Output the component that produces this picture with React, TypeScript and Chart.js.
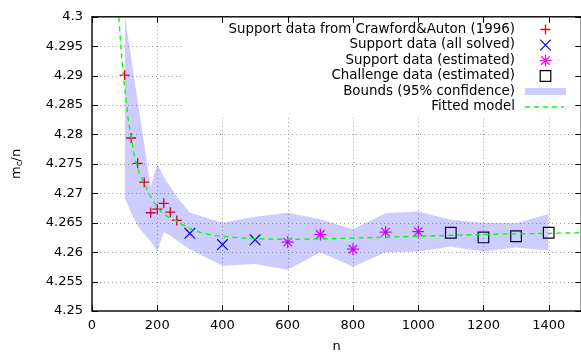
import React, { useEffect, useRef } from 'react';
import { Chart, registerables } from 'chart.js';

Chart.register(...registerables);

const FONT = '"DejaVu Sans", "Noto Sans", sans-serif';

// ---- tick values ----
const X_TICKS = [0, 200, 400, 600, 800, 1000, 1200, 1400];
const Y_TICKS = [4.25, 4.255, 4.26, 4.265, 4.27, 4.275, 4.28, 4.285, 4.29, 4.295, 4.3];

// ---- series ----
const CRAWFORD_N = [100, 120, 140, 160, 180, 200, 220, 240, 260];
const CRAWFORD_Y = [4.2901, 4.2794, 4.2751, 4.2719, 4.2667, 4.2673, 4.2683, 4.2668, 4.2654];

const SOLVED_N = [300, 400, 500];
const SOLVED_Y = [4.2632, 4.2613, 4.2621];

const ESTIMATED_N = [600, 700, 800, 900, 1000];
const ESTIMATED_Y = [4.2617, 4.263, 4.2605, 4.2634, 4.2635];

const CHALLENGE_N = [1100, 1200, 1300, 1400];
const CHALLENGE_Y = [4.2633, 4.2625, 4.2627, 4.2633];

const BOUND_N = [100, 120, 140, 160, 180, 200, 220, 240, 260, 300, 400, 500, 600, 700, 800, 900, 1000, 1100, 1200, 1300, 1400];
const BOUND_HI = [4.3005, 4.293, 4.2857, 4.2784, 4.2711, 4.275, 4.2728, 4.2711, 4.2694, 4.2667, 4.265, 4.266, 4.2667, 4.2656, 4.2639, 4.2666, 4.2669, 4.2655, 4.265, 4.2649, 4.2665];
const BOUND_LO = [4.2692, 4.2667, 4.2645, 4.2631, 4.2618, 4.2601, 4.2634, 4.2628, 4.262, 4.2605, 4.2577, 4.258, 4.257, 4.26, 4.2575, 4.26, 4.2601, 4.2609, 4.2601, 4.2608, 4.2603];

const MODEL_N = [82, 89, 96, 105, 112, 120, 130, 145, 166, 181, 205, 227, 258, 293, 319, 350, 400, 500, 600, 800, 1000, 1200, 1400, 1500];
const MODEL_Y = [4.2999, 4.2946, 4.2901, 4.2856, 4.2822, 4.2797, 4.2764, 4.2735, 4.271, 4.2693, 4.2673, 4.2662, 4.2653, 4.2642, 4.2636, 4.2631, 4.2627, 4.2623, 4.2622, 4.2624, 4.2627, 4.263, 4.2632, 4.2633];

const LABELS = [
  'Support data from Crawford&Auton (1996)',
  'Support data (all solved)',
  'Support data (estimated)',
  'Challenge data (estimated)',
  'Bounds (95% confidence)',
  'Fitted model',
];

const xy = (ns: number[], ys: number[]) => ns.map((n, i) => ({ x: n, y: ys[i] }));

function drawMarker(ctx: CanvasRenderingContext2D, style: string, x: number, y: number, r: number, color: string, w: number) {
  ctx.save();
  ctx.strokeStyle = color;
  ctx.lineWidth = w;
  ctx.setLineDash([]);
  ctx.beginPath();
  const d = r * Math.SQRT1_2;
  if (style === 'cross' || style === 'star') {
    ctx.moveTo(x - r, y); ctx.lineTo(x + r, y);
    ctx.moveTo(x, y - r); ctx.lineTo(x, y + r);
  }
  if (style === 'crossRot' || style === 'star') {
    ctx.moveTo(x - d, y - d); ctx.lineTo(x + d, y + d);
    ctx.moveTo(x + d, y - d); ctx.lineTo(x - d, y + d);
  }
  if (style === 'rect') {
    ctx.rect(x - d, y - d, 2 * d, 2 * d);
  }
  ctx.stroke();
  ctx.restore();
}

const decorPlugin = {
  id: 'gnuplotDecor',
  beforeDatasetsDraw(chart: any) {
    const { ctx, chartArea: a, scales } = chart;
    const xs = scales.x, ys = scales.y;
    ctx.save();
    ctx.strokeStyle = '#a0a0a0';
    ctx.lineWidth = 1;
    ctx.setLineDash([1, 3]);
    ctx.beginPath();
    for (const v of X_TICKS) {
      const px = Math.round(xs.getPixelForValue(v)) + 0.5;
      if (px <= a.left + 1 || px >= a.right - 1) continue;
      ctx.moveTo(px, a.bottom); ctx.lineTo(px, a.top);
    }
    for (const v of Y_TICKS) {
      const py = Math.round(ys.getPixelForValue(v)) + 0.5;
      if (py <= a.top + 1 || py >= a.bottom - 1) continue;
      ctx.moveTo(a.left, py); ctx.lineTo(a.right, py);
    }
    ctx.stroke();
    ctx.setLineDash([]);
    // opaque key box
    ctx.fillStyle = '#ffffff';
    ctx.fillRect(182, a.top + 1, a.right - 182, 116 - a.top - 1);
    ctx.restore();
  },
  afterDraw(chart: any) {
    const { ctx, chartArea: a, scales } = chart;
    const xs = scales.x, ys = scales.y;
    ctx.save();
    // border
    ctx.strokeStyle = '#000';
    ctx.lineWidth = 1.4;
    ctx.strokeRect(a.left, a.top, a.right - a.left, a.bottom - a.top);
    // ticks (mirrored, inward)
    ctx.lineWidth = 1;
    ctx.beginPath();
    const tl = 6;
    for (const v of X_TICKS) {
      const px = Math.round(xs.getPixelForValue(v)) + 0.5;
      ctx.moveTo(px, a.bottom); ctx.lineTo(px, a.bottom - tl);
      ctx.moveTo(px, a.top); ctx.lineTo(px, a.top + tl);
    }
    for (const v of Y_TICKS) {
      const py = Math.round(ys.getPixelForValue(v)) + 0.5;
      ctx.moveTo(a.left, py); ctx.lineTo(a.left + tl, py);
      ctx.moveTo(a.right, py); ctx.lineTo(a.right - tl, py);
    }
    ctx.stroke();

    // key
    ctx.font = '13.4px ' + FONT;
    ctx.textAlign = 'right';
    ctx.textBaseline = 'middle';
    let row = 0;
    chart.data.datasets.forEach((ds: any) => {
      if (!ds.label) return;
      const y = 29.5 + row * 15.5;
      row++;
      ctx.fillStyle = '#000';
      ctx.fillText(ds.label, 515, y);
      if (ds.fill) {
        ctx.fillStyle = ds.backgroundColor;
        ctx.fillRect(525, y - 3.5, 41, 7);
      } else if (ds.showLine) {
        ctx.save();
        ctx.strokeStyle = ds.borderColor;
        ctx.lineWidth = ds.borderWidth;
        ctx.setLineDash(ds.borderDash || []);
        ctx.beginPath();
        ctx.moveTo(525, y); ctx.lineTo(564, y);
        ctx.stroke();
        ctx.restore();
      } else {
        drawMarker(ctx, ds.pointStyle, 545.5, y, ds.pointRadius, ds.borderColor, ds.pointBorderWidth);
      }
    });

    // y title with subscript
    ctx.translate(16.5, (a.top + a.bottom) / 2);
    ctx.rotate(-Math.PI / 2);
    ctx.textAlign = 'left';
    ctx.textBaseline = 'middle';
    ctx.fillStyle = '#000';
    ctx.font = '13px ' + FONT;
    const wm = ctx.measureText('m').width;
    const ws = ctx.measureText('/n').width;
    ctx.font = '9px ' + FONT;
    const wc = ctx.measureText('c').width;
    const x0 = -(wm + wc + ws) / 2;
    ctx.font = '13px ' + FONT;
    ctx.fillText('m', x0, 0);
    ctx.font = '9px ' + FONT;
    ctx.fillText('c', x0 + wm, 3);
    ctx.font = '13px ' + FONT;
    ctx.fillText('/n', x0 + wm + wc, 0);
    ctx.restore();
  },
};

export default function App() {
  const ref = useRef<HTMLCanvasElement | null>(null);

  useEffect(() => {
    if (!ref.current) return;
    const transparent = 'rgba(0,0,0,0)';
    const chart = new Chart(ref.current, {
      type: 'scatter',
      data: {
        datasets: [
          {
            label: LABELS[0],
            data: xy(CRAWFORD_N, CRAWFORD_Y),
            showLine: false,
            pointStyle: 'cross',
            pointRadius: 5,
            borderColor: '#ff0000',
            backgroundColor: transparent,
            pointBorderWidth: 1.3,
            order: 6,
          },
          {
            label: LABELS[1],
            data: xy(SOLVED_N, SOLVED_Y),
            showLine: false,
            pointStyle: 'crossRot',
            pointRadius: 7.5,
            borderColor: '#0000ff',
            backgroundColor: transparent,
            pointBorderWidth: 1.2,
            order: 5,
          },
          {
            label: LABELS[2],
            data: xy(ESTIMATED_N, ESTIMATED_Y),
            showLine: false,
            pointStyle: 'star',
            pointRadius: 6,
            borderColor: '#ff00ff',
            backgroundColor: transparent,
            pointBorderWidth: 1.2,
            order: 4,
          },
          {
            label: LABELS[3],
            data: xy(CHALLENGE_N, CHALLENGE_Y),
            showLine: false,
            pointStyle: 'rect',
            pointRadius: 7.5,
            borderColor: '#000000',
            backgroundColor: transparent,
            pointBorderWidth: 1.2,
            order: 3,
          },
          {
            label: LABELS[4],
            data: xy(BOUND_N, BOUND_HI),
            showLine: true,
            fill: '+1',
            borderColor: transparent,
            borderWidth: 1,
            backgroundColor: 'rgba(0,0,255,0.2)',
            pointRadius: 0,
            order: 2,
          },
          {
            label: '',
            data: xy(BOUND_N, BOUND_LO),
            showLine: true,
            fill: false,
            borderColor: transparent,
            borderWidth: 1,
            backgroundColor: transparent,
            pointRadius: 0,
            order: 2,
          },
          {
            label: LABELS[5],
            data: xy(MODEL_N, MODEL_Y),
            showLine: true,
            fill: false,
            borderColor: '#00ff00',
            borderWidth: 1.4,
            borderDash: [5, 4],
            backgroundColor: transparent,
            pointRadius: 0,
            cubicInterpolationMode: 'monotone',
            order: 1,
          },
        ],
      },
      options: {
        animation: false,
        responsive: false,
        devicePixelRatio: 1,
        layout: { padding: { left: 0, top: 15, right: 8, bottom: 0 } },
        plugins: {
          legend: { display: false },
          tooltip: { enabled: false },
        },
        scales: {
          x: {
            type: 'linear',
            min: 0,
            max: 1500,
            afterBuildTicks: (s: any) => { s.ticks = X_TICKS.map((value) => ({ value })); },
            afterFit: (s: any) => { s.height = 42; },
            grid: { display: false, drawTicks: false },
            border: { display: false },
            ticks: {
              autoSkip: false,
              maxRotation: 0,
              padding: 7,
              color: '#000',
              font: { family: FONT, size: 13 },
              callback: (v: any) => String(v),
            },
            title: {
              display: true,
              text: 'n',
              color: '#000',
              padding: 0,
              font: { family: FONT, size: 13, lineHeight: 1 },
            },
          },
          y: {
            type: 'linear',
            min: 4.25,
            max: 4.3,
            afterBuildTicks: (s: any) => { s.ticks = Y_TICKS.map((value) => ({ value })); },
            afterFit: (s: any) => { s.width = 92; },
            grid: { display: false, drawTicks: false },
            border: { display: false },
            ticks: {
              autoSkip: false,
              padding: 9,
              color: '#000',
              font: { family: FONT, size: 13 },
              callback: (v: any) => String(+(+v).toFixed(3)),
            },
          },
        },
      },
      plugins: [decorPlugin],
    } as any);
    return () => chart.destroy();
  }, []);

  return (
    <div style={{ position: 'fixed', left: 0, top: 0, width: 581, height: 353, overflow: 'hidden', background: '#fff' }}>
      <canvas ref={ref} width={590} height={353} style={{ display: 'block', width: 590, height: 353 }} />
    </div>
  );
}
